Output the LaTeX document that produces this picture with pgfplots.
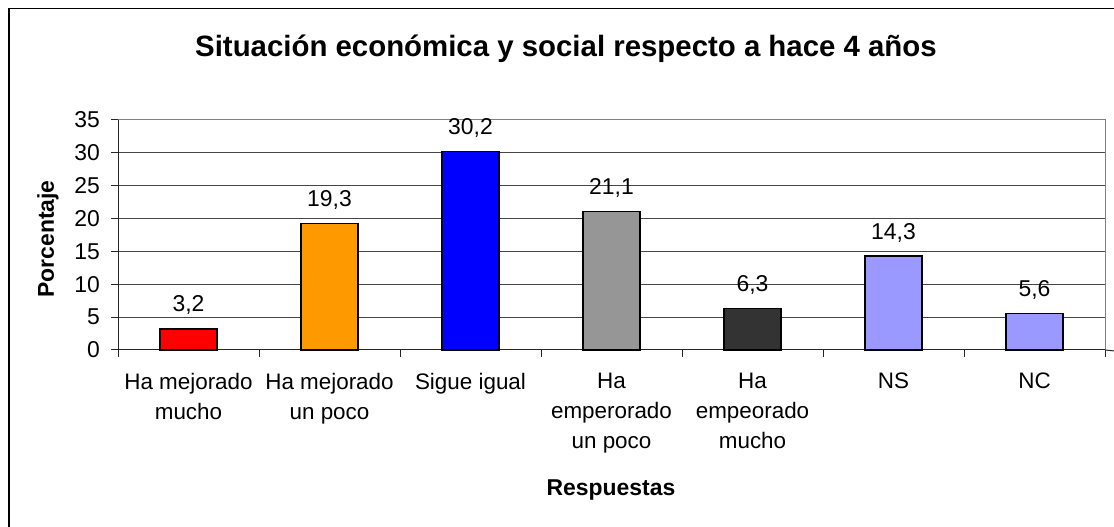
\documentclass[border=0pt]{standalone}
\usepackage{fontspec}
\setmainfont{Liberation Sans}
\usepackage{pgfplots}
\pgfplotsset{compat=1.18}
\definecolor{cRed}{RGB}{255,0,0}
\definecolor{cOrange}{RGB}{255,153,0}
\definecolor{cBlue}{RGB}{0,0,255}
\definecolor{cGray}{RGB}{150,150,150}
\definecolor{cDark}{RGB}{51,51,51}
\definecolor{cLav}{RGB}{153,153,255}
\definecolor{gridc}{RGB}{70,70,70}
\begin{document}
\begin{tikzpicture}[x=1bp,y=1bp]
\path[use as bounding box] (0,0) rectangle (1114,527);
\fill[white] (0,0) rectangle (1114,527);
\draw[line width=1.6bp] (8.7,-100) -- (8.7,518.5) -- (1200,518.5);
\node[anchor=base, font=\fontsize{29.5}{33}\selectfont\bfseries] at (566,470) {Situación económica y social respecto a hace 4 años};
\node[rotate=90, font=\fontsize{23}{26}\selectfont\bfseries] at (48,288) {Porcentaje};
\node[anchor=base, font=\fontsize{23}{26}\selectfont\bfseries] at (611,31) {Respuestas};
\begin{axis}[
  at={(118bp,177bp)}, anchor=south west,
  scale only axis, width=987bp, height=230bp,
  xmin=-0.5, xmax=6.5, ymin=0, ymax=35,
  axis lines=left, axis line style={-, black!85, line width=1bp},
  ytick={0,5,...,35},
  xtick={0,...,6},
  xticklabels={{Ha mejorado\\mucho},{Ha mejorado\\un poco},{Sigue igual},{Ha\\emperorado\\un poco},{Ha\\empeorado\\mucho},{NS},{NC}},
  minor xtick={-0.5,0.5,...,6.5},
  tick align=outside,
  major tick length=7bp, minor tick length=7bp,
  x tick style={draw=none},
  minor x tick style={draw=black!85, line width=1bp},
  y tick style={draw=black!85, line width=1bp},
  ymajorgrids, major grid style={draw=gridc, line width=1bp},
  /pgf/number format/assume math mode=true,
  yticklabel style={font=\fontsize{23}{26}\selectfont, anchor=east, inner sep=0pt, xshift=-11bp},
  xticklabel style={font=\fontsize{22.5}{30}\selectfont, align=center, anchor=north, inner sep=0pt, yshift=-16bp},
  ybar, bar width=57bp,
  every axis plot/.append style={bar shift=0pt, draw=black, line width=1.2bp},
  nodes near coords={\pgfmathprintnumber[use comma,fixed,fixed zerofill,precision=1,assume math mode=true]{\pgfplotspointmeta}},
  nodes near coords style={font=\fontsize{23}{26}\selectfont, anchor=base, inner sep=0pt, yshift=17bp, text=black},
  clip=false,
]
\addplot[fill=cRed] coordinates {(0,3.2)};
\addplot[fill=cOrange] coordinates {(1,19.3)};
\addplot[fill=cBlue] coordinates {(2,30.2)};
\addplot[fill=cGray] coordinates {(3,21.1)};
\addplot[fill=cDark] coordinates {(4,6.3)};
\addplot[fill=cLav] coordinates {(5,14.3)};
\addplot[fill=cLav] coordinates {(6,5.6)};
\draw[gray, line width=1bp] (rel axis cs:0,1) -- (rel axis cs:1,1) -- (rel axis cs:1,0);
\draw[black!85, line width=1bp] (rel axis cs:1,0) -- ++(0,-7bp);
\end{axis}
\end{tikzpicture}
\end{document}
